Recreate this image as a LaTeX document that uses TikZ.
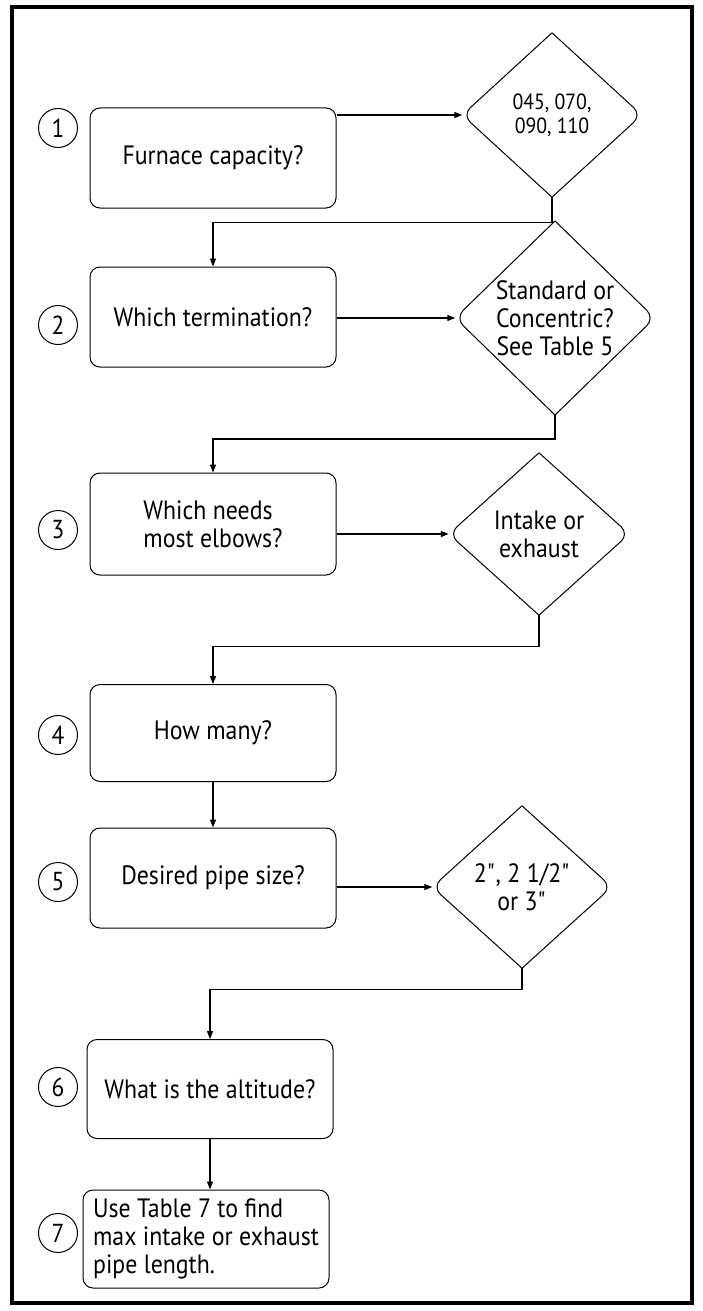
\documentclass[tikz,border=0pt]{standalone}
\usepackage{fontspec}
\setmainfont{PT Sans}[FakeStretch=0.9]
\usetikzlibrary{shapes.geometric,arrows.meta}

\begin{document}
\begin{tikzpicture}[x=1pt,y=-1pt,
    question/.style={draw,line width=1pt,rounded corners=10pt,minimum width=246pt,minimum height=100pt,inner sep=0pt,font=\fontsize{26.5}{28}\selectfont,align=center},
    answer/.style={diamond,inner sep=0pt,font=\fontsize{26.5}{28}\selectfont,align=center},
    stepnum/.style={draw,line width=1pt,circle,minimum size=39pt,inner sep=0pt,font=\fontsize{26}{28}\selectfont},
    outline/.style={line width=1pt,rounded corners=11pt},
    flow/.style={line width=1.2pt,-{Triangle[length=8pt,width=6pt]}}]
        \useasboundingbox (0,0) rectangle (702,1311);
        %% Frame
        \draw[line width=4pt] (12,7) rectangle (692,1303);
        %% Questions
        \node[question] (b1) at (213,158) {Furnace capacity?};
        \node[question] (b2) at (213,317) {Which termination?};
        \node[question,minimum height=102pt,align=left] (b3) at (213,524) {Which needs\\most elbows?};
        \node[question,minimum height=97pt] (b4) at (213,733) {How many?};
        \node[question] (b5) at (213,878) {Desired pipe size?};
        \node[question,minimum height=99pt] (b6) at (210,1089) {What is the altitude?};
        \node[question,minimum height=98pt,align=left] (b7) at (206,1239) {Use Table 7 to find\\max intake or exhaust\\pipe length.};
        %% Answers
        \node[answer,minimum width=179pt,minimum height=164pt,font=\fontsize{22}{24}\selectfont] (d1) at (552,115) {045, 070,\\090, 110};
        \node[answer,minimum width=199pt,minimum height=181pt] (d2) at (555,318) {Standard or\\Concentric?\\See Table 5};
        \node[answer,minimum width=180pt,minimum height=162pt] (d3) at (539,534) {Intake or\\exhaust};
        \node[answer,minimum width=179pt,minimum height=162pt] (d5) at (522,887) {2\textquotedbl, 2 1/2\textquotedbl\\or 3\textquotedbl};
        \foreach \d in {d1,d2,d3,d5}{
            \draw[outline] (\d.north) -- (\d.east) -- (\d.south);
            \draw[outline] (\d.south) -- (\d.west) -- (\d.north);
        }
        %% Step numbers
        \node[stepnum] (n1) at (58,128) {1};
        \node[stepnum] (n2) at (58,325) {2};
        \node[stepnum] (n3) at (58,530) {3};
        \node[stepnum] (n4) at (58,735) {4};
        \node[stepnum] (n5) at (58,882) {5};
        \node[stepnum] (n6) at (58,1087) {6};
        \node[stepnum] (n7) at (58,1233) {7};
        %% Flow
        \draw[flow] (b1.east |- d1.west) -- (d1.west);
        \draw[flow] (d1.south) -- ++(0,25) -| (b2.north);
        \draw[flow] (b2.east |- d2.west) -- (d2.west);
        \draw[flow] (d2.south) -- ++(0,24) -| (b3.north);
        \draw[flow] (b3.east |- d3.west) -- (d3.west);
        \draw[flow] (d3.south) -- ++(0,31) -| (b4.north);
        \draw[flow] (b4.south) -- (b5.north);
        \draw[flow] (b5.east |- d5.west) -- (d5.west);
        \draw[flow] (d5.south) -- ++(0,21) -| (b6.north);
        \draw[flow] (b6.south) -- (b6.south |- b7.north);
    \end{tikzpicture}
\end{document}
